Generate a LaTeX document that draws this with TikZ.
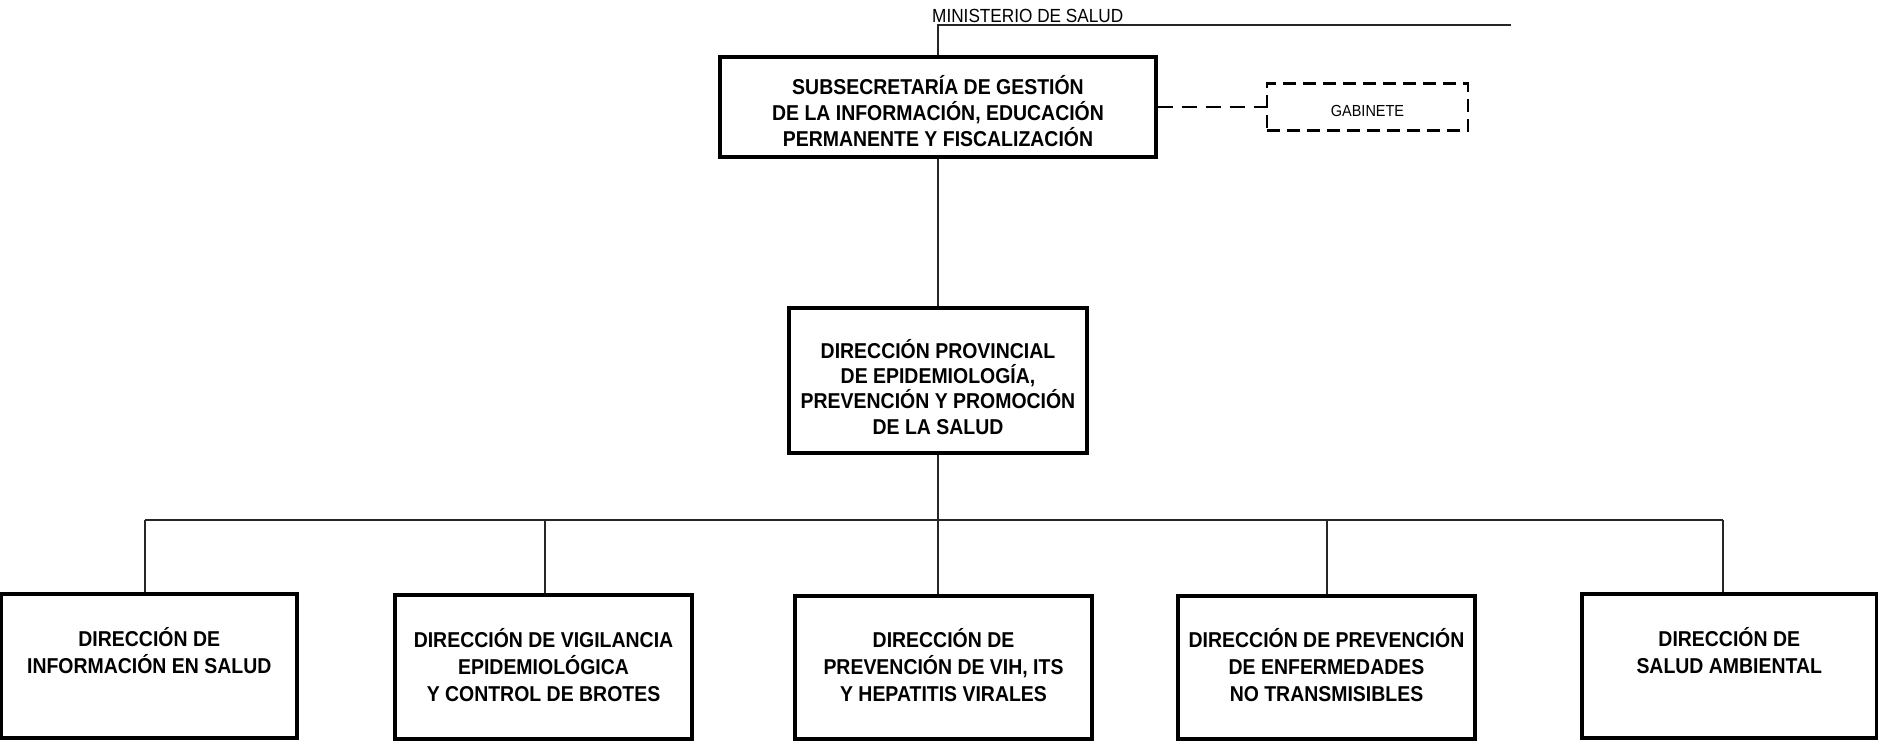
\documentclass[tikz,border=0pt]{standalone}
\usepackage{fontspec}
\setmainfont{Liberation Sans}[FakeStretch=0.905]
\begin{document}
\begin{tikzpicture}[x=1pt,y=-1pt,
  box/.style={draw=black,line width=3.2pt,rectangle,inner sep=0pt},
  dbox/.style={draw=black,line width=2.6pt,rectangle,inner sep=0pt,dash pattern=on 13pt off 7pt},
  conn/.style={draw=black!85,line width=1.2pt},
  dconn/.style={draw=black,line width=2.6pt,dash pattern=on 15pt off 9pt},
  btxt/.style={font=\bfseries\fontsize{21.5}{26.5}\selectfont,align=center,anchor=base,inner sep=0pt},
  rtxt/.style={inner sep=0pt}]
\useasboundingbox (0,0) rectangle (1878,742);
% boxes
\node[box,minimum width=436pt,minimum height=100pt] (subsec) at (938,107) {};
\node[dbox,minimum width=201pt,minimum height=47pt] (gab) at (1367.5,107) {};
\node[box,minimum width=298pt,minimum height=145pt] (prov) at (938,380.5) {};
\node[box,minimum width=295.5pt,minimum height=144pt] (b1) at (149.25,666) {};
\node[box,minimum width=297pt,minimum height=144pt] (b2) at (543.5,667) {};
\node[box,minimum width=297pt,minimum height=143pt] (b3) at (943.5,667.5) {};
\node[box,minimum width=297pt,minimum height=143pt] (b4) at (1326.5,667.5) {};
\node[box,minimum width=294.5pt,minimum height=144pt] (b5) at (1729.25,666) {};
% texts (anchor = baseline of the last line)
\node[rtxt,anchor=base west,font=\fontsize{19}{21}\selectfont] (mintxt) at (932,22) {MINISTERIO DE SALUD};
\node[btxt,font=\bfseries\fontsize{21.5}{26}\selectfont] (subsectxt) at (938,146) {SUBSECRETARÍA DE GESTIÓN\\DE LA INFORMACIÓN, EDUCACIÓN\\PERMANENTE Y FISCALIZACIÓN};
\node[rtxt,anchor=base,font=\fontsize{16}{18}\selectfont] (gabtxt) at (1367.5,116) {GABINETE};
\node[btxt,font=\bfseries\fontsize{21.5}{25.3}\selectfont] (provtxt) at (938,434) {DIRECCIÓN PROVINCIAL\\DE EPIDEMIOLOGÍA,\\PREVENCIÓN Y PROMOCIÓN\\DE LA SALUD};
\node[btxt] (t1) at (149.25,673) {DIRECCIÓN DE\\INFORMACIÓN EN SALUD};
\node[btxt,font=\bfseries\fontsize{21.5}{27}\selectfont] (t2) at (543.5,701) {DIRECCIÓN DE VIGILANCIA\\EPIDEMIOLÓGICA\\Y CONTROL DE BROTES};
\node[btxt,font=\bfseries\fontsize{21.5}{27}\selectfont] (t3) at (943.5,701) {DIRECCIÓN DE\\PREVENCIÓN DE VIH, ITS\\Y HEPATITIS VIRALES};
\node[btxt,font=\bfseries\fontsize{21.5}{27}\selectfont] (t4) at (1326.5,701) {DIRECCIÓN DE PREVENCIÓN\\DE ENFERMEDADES\\NO TRANSMISIBLES};
\node[btxt] (t5) at (1729.25,673) {DIRECCIÓN DE\\SALUD AMBIENTAL};
% connectors
\coordinate (mend) at (1511,25);
\draw[conn] (subsec.north) |- (mend);
\draw[dconn] (subsec.east) -- (gab.west);
\draw[conn] (subsec.south) -- (prov.north);
\coordinate (d1) at (145,520);
\coordinate (d2) at (545,520);
\coordinate (d3) at (938,520);
\coordinate (d4) at (1327,520);
\coordinate (d5) at (1723,520);
\draw[conn] (d1) -- (d5);
\draw[conn] (prov.south) -- (d3);
\draw[conn] (d1) -- (d1 |- b1.north);
\draw[conn] (d2) -- (d2 |- b2.north);
\draw[conn] (d3) -- (d3 |- b3.north);
\draw[conn] (d4) -- (d4 |- b4.north);
\draw[conn] (d5) -- (d5 |- b5.north);
\end{tikzpicture}
\end{document}
